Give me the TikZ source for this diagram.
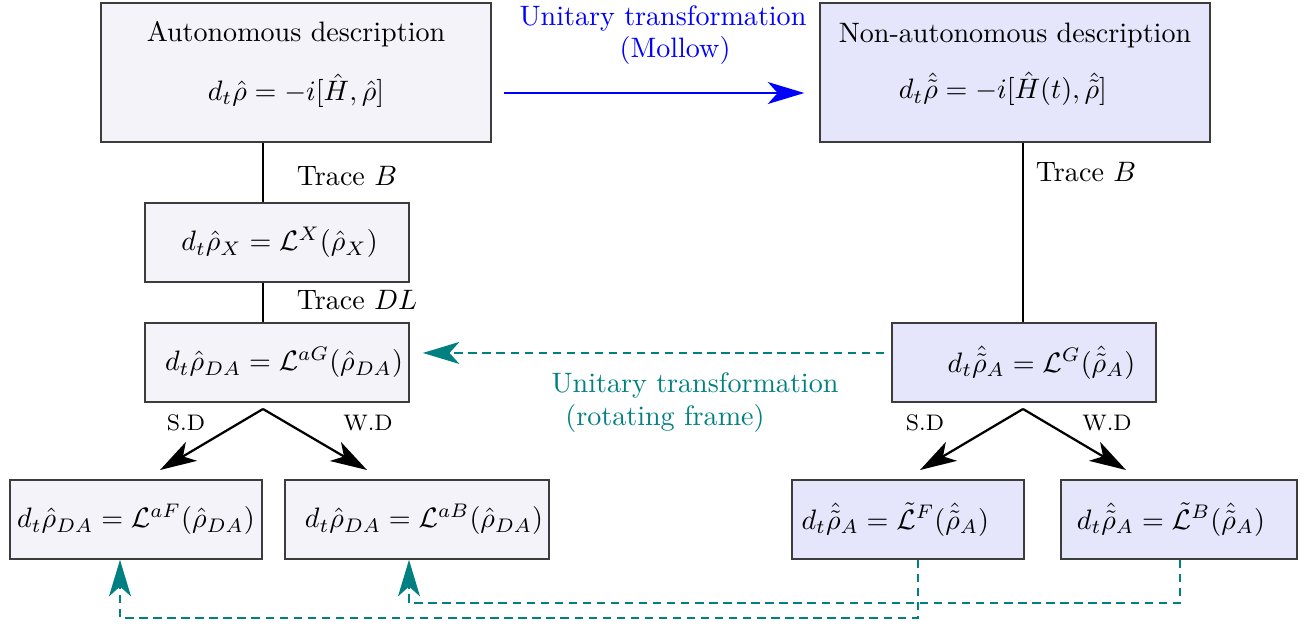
\documentclass[tikz,border=0pt]{standalone}
\usepackage{amsmath}
\usetikzlibrary{arrows.meta}
\definecolor{boxA}{RGB}{243,243,249}
\definecolor{boxN}{RGB}{229,229,251}
\definecolor{edge}{RGB}{60,60,60}
\newcommand{\lowpad}{\rule[-8.2pt]{0pt}{8.2pt}}
\begin{document}
\begin{tikzpicture}[x=0.356pt,y=-0.356pt,
  tip/.style={-{Stealth[length=13pt,width=7.8pt,inset=3.5pt]}},
  bx/.style={draw=edge,line width=0.6pt,inner sep=0pt,align=center},
  bigbox/.style={bx,minimum width=138.8pt,minimum height=49.5pt},
  midbox/.style={bx,minimum width=94pt,minimum height=28.1pt},
  conn/.style={line width=0.8pt},
  tdash/.style={teal,line width=0.8pt,dash pattern=on 3pt off 2pt},
  lbl/.style={inner sep=0pt}]
\useasboundingbox (0,0) rectangle (1307,627);
% main boxes
\node[bigbox,fill=boxA] (A) at (296,72.5) {Autonomous description\\[9pt] $d_t\hat\rho = -i[\hat H,\hat\rho]$\lowpad};
\node[bigbox,fill=boxN] (N) at (1015,72.5) {Non-autonomous description\\[8pt] $d_t\hat{\tilde\rho} = -i[\hat H(t),\hat{\tilde\rho}]$\hspace{8.6pt}\lowpad};
\node[midbox,fill=boxA] (X) at (277,242.5) {\hspace{1.8pt}$d_t\hat\rho_X = \mathcal{L}^X(\hat\rho_X)$};
\node[midbox,fill=boxA] (DA) at (277,362.5) {\hspace{5pt}$d_t\hat\rho_{DA} = \mathcal{L}^{aG}(\hat\rho_{DA})$};
\node[midbox,fill=boxN] (GA) at (1024,362.5) {\hspace{12.5pt}$d_t\hat{\tilde\rho}_A = \mathcal{L}^{G}(\hat{\tilde\rho}_A)$};
\node[bx,fill=boxA,minimum width=89.7pt,minimum height=28.1pt] (aF) at (136,519.5) {$d_t\hat\rho_{DA} = \mathcal{L}^{aF}(\hat\rho_{DA})$};
\node[bx,fill=boxA,minimum width=94pt,minimum height=28.1pt] (aB) at (417,519.5) {\hspace{5pt}$d_t\hat\rho_{DA} = \mathcal{L}^{aB}(\hat\rho_{DA})$};
\node[bx,fill=boxN,minimum width=82.6pt,minimum height=28.1pt] (F) at (908,519.5) {$d_t\hat{\tilde\rho}_A = \tilde{\mathcal{L}}{}^{F}(\hat{\tilde\rho}_A)$\hspace{9pt}};
\node[bx,fill=boxN,minimum width=84pt,minimum height=28.1pt] (B) at (1179,519.5) {$d_t\hat{\tilde\rho}_A = \tilde{\mathcal{L}}{}^{B}(\hat{\tilde\rho}_A)$\hspace{5.7pt}};
% labels
\node[lbl,blue] (u1) at (663,18) {Unitary transformation};
\node[lbl,blue] (u2) at (675,50) {(Mollow)};
\node[lbl,teal] (r1) at (695,385) {Unitary transformation};
\node[lbl,teal] (r2) at (665,418) {(rotating frame)};
\node[lbl] (t1) at (347,176) {Trace $B$};
\node[lbl] (t2) at (357,300) {Trace $DL$};
\node[lbl] (t3) at (1086,172) {Trace $B$};
\node[lbl,font=\footnotesize] (s1) at (186,423) {S.D};
\node[lbl,font=\footnotesize] (w1) at (368,423) {W.D};
\node[lbl,font=\footnotesize] (s2) at (925,423) {S.D};
\node[lbl,font=\footnotesize] (w2) at (1107,423) {W.D};
% coordinates
\coordinate (lx) at (263,0);
\coordinate (rx) at (1023,0);
\coordinate (dl) at (263,409);
\coordinate (dlL) at (160,470);
\coordinate (dlR) at (367,470);
\coordinate (gl) at (1023,409);
\coordinate (glL) at (920,470);
\coordinate (glR) at (1126,470);
\coordinate (fx) at (918,0);
\coordinate (bxx) at (1180,0);
\coordinate (ax) at (120,0);
\coordinate (abx) at (409,0);
\coordinate (low1) at (0,618);
\coordinate (low2) at (0,603);
% connectors
\draw[conn,blue,tip,shorten <=4.3pt,shorten >=5.3pt] ([yshift=-7.3pt]A.east) -- ([yshift=-7.3pt]N.west);
\draw[conn] (A.south -| lx) -- (X.north -| lx);
\draw[conn] (X.south -| lx) -- (DA.north -| lx);
\draw[conn] (N.south -| rx) -- (GA.north -| rx);
\draw[tdash,tip,shorten <=2.5pt,shorten >=4.6pt] ([yshift=3.4pt]GA.west) -- ([yshift=3.4pt]DA.east);
\draw[conn,tip] (dl) -- (dlL);
\draw[conn,tip] (dl) -- (dlR);
\draw[conn,tip] (gl) -- (glL);
\draw[conn,tip] (gl) -- (glR);
\draw[tdash,tip] (F.south -| fx) -- (fx |- low1) -- (ax |- low1) -- (aF.south -| ax);
\draw[tdash,tip] (B.south -| bxx) -- (bxx |- low2) -- (abx |- low2) -- (aB.south -| abx);
\end{tikzpicture}
\end{document}
